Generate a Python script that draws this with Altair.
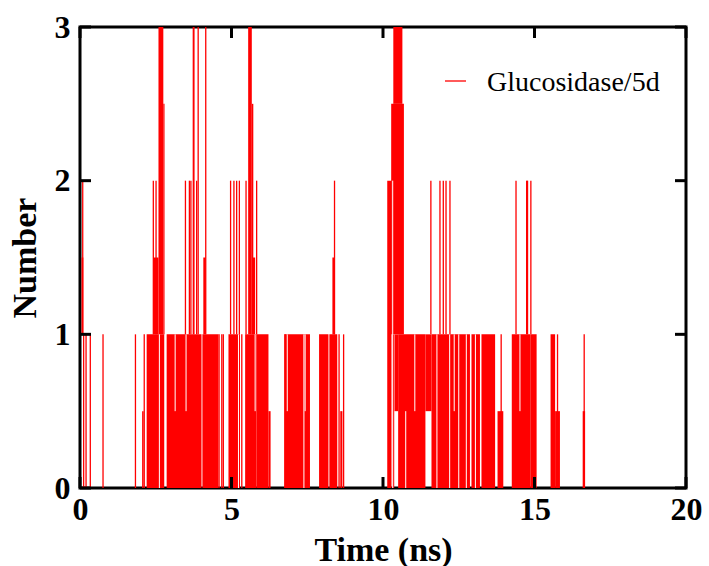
import altair as alt
import pandas as pd

# ---- data (time in ns, H-bond number) ----
# filled blocks: dense stretches where the count flips quickly
blk_t0 = [0.05, 2.05, 2.20, 2.42, 2.59, 2.75, 2.86, 4.07, 4.04, 4.90, 5.45, 5.55, 5.67, 5.70,
          5.83, 6.22, 6.74, 7.89, 8.23, 8.33, 8.59, 10.14, 10.27, 10.34, 10.31, 10.38, 10.50,
          11.40, 11.60, 12.92, 13.25, 13.78, 14.25, 14.86, 15.53, 15.68, 16.59]
blk_t1 = [0.11, 2.10, 2.78, 2.59, 2.75, 2.79, 4.01, 4.15, 4.57, 5.28, 5.83, 5.67, 5.72, 5.78,
          6.22, 6.29, 7.59, 8.20, 8.49, 8.41, 8.66, 10.28, 10.69, 10.64, 10.37, 10.50, 11.40,
          11.60, 12.87, 13.20, 13.70, 13.97, 14.86, 15.07, 15.68, 15.84, 16.67]
blk_lo = [1, 0, 0, 1, 1, 1, 0, 1, 0, 0, 0, 1, 1, 1,
          0, 0, 0, 0, 0, 1, 0, 0, 1, 2.5, 0, 0.5, 0,
          0.5, 0, 0, 0, 0, 0, 0, 0, 0, 0]
blk_hi = [1.5, 0.5, 1, 1.5, 3, 2.5, 1, 1.5, 1, 1, 1, 3, 2.5, 1.5,
          1, 0.5, 1, 1, 1, 1.5, 0.5, 2, 2.5, 3, 1, 1, 1,
          1, 1, 1, 1, 0.5, 1, 1, 1, 0.5, 0.5]

# single isolated transitions (thin spikes)
spk_t = [0.09, 0.12, 0.20, 0.34, 0.76, 1.83, 2.12, 2.42, 2.51, 3.48, 3.61, 3.66, 3.74, 3.76,
         3.85, 3.90, 4.15, 4.59, 4.68, 4.73, 4.97, 5.08, 5.17, 5.26, 5.34, 5.48, 5.83, 6.77,
         8.40, 8.55, 8.70, 11.58, 11.88, 11.99, 12.08, 12.21, 13.90, 14.39, 14.74, 14.77,
         14.88, 15.76, 16.64]
spk_lo = [1, 0, 0, 0, 0, 0, 0, 1, 1, 1, 1, 1, 1, 1,
          1, 1, 1, 0, 0, 0, 1, 1, 1, 1, 0, 1, 1, 0,
          1, 0, 0, 1, 1, 1, 1, 1, 0, 1, 1, 1,
          1, 0, 0]
spk_hi = [2, 1, 1, 1, 1, 1, 1, 2, 2, 2, 2, 2, 3, 3,
          2, 3, 3, 1, 1, 1, 2, 2, 2, 2, 1, 2, 2, 1,
          2, 1, 1, 2, 2, 2, 2, 2, 1, 2, 2, 2,
          2, 1, 1]

# short stretches inside the blocks where the count stays at zero
gap_t = [2.62, 3.14, 3.50, 5.23, 5.78, 6.84, 7.39, 7.43, 10.32, 10.75, 11.05, 11.78,
         12.20, 12.35, 12.50, 12.75, 13.05, 14.52]
gap_lo = [0, 0.5, 0.5, 0, 0.5, 0.5, 0, 0.5, 0, 0, 0.5, 0, 0, 0.5, 0, 0, 0, 0.5]
gap_hi = [1, 1, 1, 1, 1, 1, 1, 1, 2, 0.5, 1, 1, 1, 1, 1, 1, 1, 1]

x_ticks = [0, 5, 10, 15, 20]
y_ticks = [0, 1, 2, 3]
legend_label = "Glucosidase/5d"

W, H = 606, 461
RED = "#ff0000"

blocks = pd.DataFrame({"t0": blk_t0, "t1": blk_t1, "lo": blk_lo, "hi": blk_hi})
spikes = pd.DataFrame({"t": spk_t, "lo": spk_lo, "hi": spk_hi})
gaps = pd.DataFrame({"t": gap_t, "lo": gap_lo, "hi": gap_hi})
xt = pd.DataFrame({"v": x_ticks})
yt = pd.DataFrame({"v": y_ticks})

xs = alt.Scale(domain=[0, 20], nice=False, zero=False)
ys = alt.Scale(domain=[0, 3], nice=False, zero=False)

x_axis = alt.Axis(values=x_ticks, title="Time (ns)", format="d")
y_axis = alt.Axis(values=y_ticks, title="Number", format="d")

rects = alt.Chart(blocks).mark_rect(color=RED, strokeWidth=0, clip=True).encode(
    x=alt.X("t0:Q", scale=xs, axis=x_axis),
    x2="t1:Q",
    y=alt.Y("lo:Q", scale=ys, axis=y_axis),
    y2="hi:Q",
)

spk = alt.Chart(spikes).mark_rule(color=RED, strokeWidth=1.3, clip=True).encode(
    x=alt.X("t:Q", scale=xs),
    y=alt.Y("lo:Q", scale=ys),
    y2="hi:Q",
)

gp = alt.Chart(gaps).mark_rule(color="white", strokeWidth=1, clip=True).encode(
    x=alt.X("t:Q", scale=xs),
    y=alt.Y("lo:Q", scale=ys),
    y2="hi:Q",
)

tick_w = 3
tick_len = 11
xb = alt.Chart(xt).mark_rule(color="black", strokeWidth=tick_w).encode(
    x=alt.X("v:Q", scale=xs), y=alt.value(H), y2=alt.value(H - tick_len))
xtp = alt.Chart(xt).mark_rule(color="black", strokeWidth=tick_w).encode(
    x=alt.X("v:Q", scale=xs), y=alt.value(0), y2=alt.value(tick_len))
yl = alt.Chart(yt).mark_rule(color="black", strokeWidth=tick_w).encode(
    y=alt.Y("v:Q", scale=ys), x=alt.value(0), x2=alt.value(tick_len))
yr = alt.Chart(yt).mark_rule(color="black", strokeWidth=tick_w).encode(
    y=alt.Y("v:Q", scale=ys), x=alt.value(W), x2=alt.value(W - tick_len))

leg_line = alt.Chart(pd.DataFrame({"label": [legend_label]})).mark_rule(
    color=RED, strokeWidth=1.3).encode(
    x=alt.value(365), x2=alt.value(386), y=alt.value(54))
leg_text = alt.Chart(pd.DataFrame({"label": [legend_label]})).mark_text(
    font="Liberation Serif", fontSize=28, align="left", baseline="middle", color="black"
).encode(x=alt.value(407), y=alt.value(56), text="label:N")

chart = alt.layer(rects, gp, spk, xb, xtp, yl, yr, leg_line, leg_text).properties(
    width=W, height=H,
    autosize=alt.AutoSizeParams(type="none"),
    padding={"left": 80, "top": 27, "right": 23, "bottom": 78},
).configure_view(
    stroke="black", strokeWidth=3
).configure_axis(
    domain=False, ticks=False, grid=False, labelFlush=False, labelOverlap=False,
    labelFont="Liberation Serif", labelFontWeight="bold", labelFontSize=32, labelColor="black",
    titleFont="Liberation Serif", titleFontWeight="bold", titleFontSize=34, titleColor="black",
).configure_axisX(
    labelPadding=6, titlePadding=8,
).configure_axisY(
    labelPadding=10, titlePadding=12,
)

chart.save("out.html", embed_options={"renderer": "svg", "actions": False})
